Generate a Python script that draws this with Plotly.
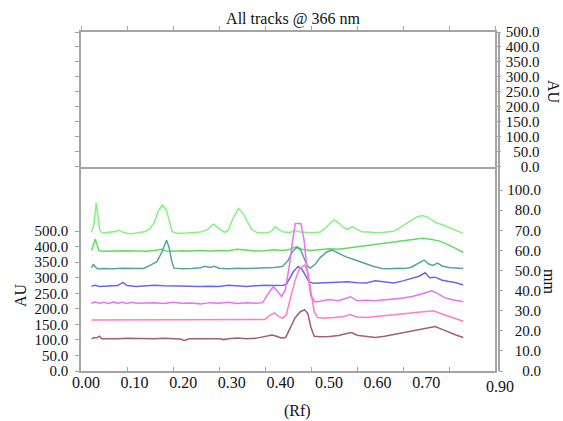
import plotly.graph_objects as go

W, H = 563, 421

# ---------------- data ----------------
rf_t1 = [0.023, 0.028, 0.033, 0.037, 0.041, 0.046, 0.055, 0.065, 0.075, 0.083, 0.090, 0.100, 0.110, 0.120,
         0.130, 0.140, 0.150, 0.160, 0.168, 0.177, 0.185, 0.192, 0.198, 0.205, 0.215, 0.230, 0.245, 0.260,
         0.275, 0.288, 0.300, 0.312, 0.320, 0.330, 0.342, 0.352, 0.362, 0.372, 0.382, 0.395, 0.408, 0.415,
         0.422, 0.430, 0.440, 0.455, 0.465, 0.475, 0.490, 0.505, 0.520, 0.530, 0.540, 0.551, 0.560, 0.570,
         0.580, 0.590, 0.597, 0.610, 0.625, 0.640, 0.655, 0.670, 0.680, 0.690, 0.700, 0.710, 0.720, 0.730,
         0.742, 0.752, 0.762, 0.773, 0.783, 0.793, 0.803, 0.812, 0.822, 0.831]
au_t1 = [446, 470, 542, 500, 452, 444, 445, 447, 449, 453, 447, 443, 442, 444,
         446, 449, 458, 480, 515, 534, 520, 480, 450, 444, 443, 444, 445, 447,
         455, 473, 458, 446, 452, 490, 523, 508, 480, 455, 446, 444, 446, 452,
         464, 455, 447, 446, 452, 448, 446, 445, 447, 458, 474, 486, 476, 462,
         456, 465, 458, 448, 447, 445, 446, 448, 450, 458, 468, 478, 488, 496,
         500, 496, 486, 476, 472, 466, 459, 455, 449, 443]

rf_t2 = [0.023, 0.027, 0.031, 0.035, 0.039, 0.045, 0.060, 0.080, 0.100, 0.120, 0.140, 0.160, 0.175, 0.185,
         0.200, 0.220, 0.240, 0.260, 0.280, 0.300, 0.320, 0.340, 0.360, 0.380, 0.400, 0.420, 0.440, 0.455,
         0.468, 0.480, 0.500, 0.520, 0.540, 0.560, 0.580, 0.600, 0.620, 0.640, 0.660, 0.680, 0.700, 0.720,
         0.742, 0.760, 0.780, 0.800, 0.815, 0.831]
au_t2 = [388, 410, 424, 405, 388, 385, 386, 385, 387, 386, 385, 388, 392, 386,
         385, 387, 386, 388, 386, 388, 387, 392, 388, 386, 387, 390, 388, 392,
         400, 392, 388, 390, 393, 392, 396, 398, 402, 406, 410, 414, 418, 424,
         427, 424, 418, 405, 393, 382]

rf_t3 = [0.023, 0.027, 0.031, 0.036, 0.050, 0.070, 0.090, 0.110, 0.125, 0.136, 0.150, 0.165, 0.175, 0.186,
         0.192, 0.197, 0.202, 0.220, 0.240, 0.260, 0.270, 0.280, 0.290, 0.300, 0.320, 0.340, 0.360, 0.380,
         0.400, 0.420, 0.438, 0.450, 0.460, 0.470, 0.478, 0.486, 0.492, 0.499, 0.510, 0.520, 0.535, 0.546,
         0.560, 0.575, 0.596, 0.615, 0.635, 0.654, 0.670, 0.690, 0.705, 0.718, 0.732, 0.746, 0.755, 0.765,
         0.775, 0.785, 0.800, 0.815, 0.831]
au_t3 = [332, 344, 335, 329, 330, 329, 331, 330, 331, 330, 340, 352, 380, 421,
         395, 355, 331, 329, 330, 332, 337, 333, 337, 331, 329, 331, 330, 331,
         330, 333, 336, 355, 385, 398, 388, 360, 338, 331, 345, 365, 384, 389,
         378, 368, 357, 347, 337, 330, 329, 331, 330, 334, 345, 357, 345, 340,
         347, 338, 333, 331, 330]

rf_t4 = [0.023, 0.030, 0.040, 0.060, 0.080, 0.091, 0.100, 0.120, 0.140, 0.160, 0.180, 0.200, 0.220, 0.240,
         0.260, 0.280, 0.300, 0.320, 0.340, 0.360, 0.380, 0.400, 0.420, 0.440, 0.447, 0.455, 0.462, 0.472,
         0.480, 0.487, 0.495, 0.505, 0.520, 0.540, 0.560, 0.580, 0.600, 0.620, 0.640, 0.660, 0.680, 0.700,
         0.720, 0.735, 0.748, 0.758, 0.770, 0.785, 0.800, 0.815, 0.831]
au_t4 = [273, 276, 272, 273, 275, 285, 275, 272, 273, 276, 274, 273, 272, 273,
         272, 273, 272, 276, 273, 272, 274, 276, 275, 276, 280, 300, 320, 336,
         328, 310, 288, 282, 283, 285, 284, 287, 284, 283, 290, 286, 283, 290,
         300, 305, 316, 300, 302, 292, 288, 284, 277]

rf_t5 = [0.023, 0.030, 0.040, 0.050, 0.060, 0.070, 0.080, 0.090, 0.100, 0.110, 0.120, 0.140, 0.160, 0.180,
         0.200, 0.220, 0.240, 0.260, 0.280, 0.300, 0.320, 0.340, 0.360, 0.380, 0.395, 0.405, 0.418, 0.428,
         0.436, 0.444, 0.452, 0.460, 0.466, 0.478, 0.485, 0.492, 0.500, 0.509, 0.520, 0.540, 0.560, 0.586,
         0.600, 0.620, 0.640, 0.660, 0.680, 0.700, 0.720, 0.740, 0.762, 0.775, 0.790, 0.805, 0.820, 0.831]
au_t5 = [218, 222, 218, 221, 217, 222, 218, 221, 217, 221, 218, 219, 220, 217,
         221, 218, 219, 216, 220, 218, 221, 217, 220, 218, 220, 245, 271, 255,
         239, 260, 330, 420, 475, 475, 420, 320, 240, 222, 225, 230, 226, 239,
         226, 228, 226, 230, 232, 235, 240, 248, 258, 250, 236, 230, 226, 223]

rf_t6 = [0.023, 0.050, 0.100, 0.150, 0.200, 0.250, 0.300, 0.350, 0.390, 0.400, 0.410, 0.420, 0.430, 0.438,
         0.446, 0.455, 0.465, 0.475, 0.486, 0.493, 0.500, 0.507, 0.515, 0.530, 0.550, 0.570, 0.585, 0.600,
         0.620, 0.640, 0.660, 0.680, 0.700, 0.720, 0.740, 0.766, 0.780, 0.795, 0.810, 0.831]
au_t6 = [164, 164, 164, 164, 164, 164, 164, 164, 164, 166, 178, 187, 176, 170,
         180, 230, 290, 330, 341, 320, 250, 190, 172, 170, 172, 175, 182, 174,
         172, 175, 176, 180, 183, 187, 190, 194, 186, 178, 172, 160]

rf_t7 = [0.023, 0.028, 0.033, 0.040, 0.045, 0.060, 0.080, 0.100, 0.120, 0.140, 0.160, 0.180, 0.200, 0.215,
         0.225, 0.235, 0.260, 0.280, 0.300, 0.310, 0.320, 0.340, 0.360, 0.380, 0.400, 0.415, 0.425, 0.435,
         0.445, 0.455, 0.465, 0.476, 0.486, 0.493, 0.500, 0.507, 0.520, 0.540, 0.560, 0.575, 0.588, 0.600,
         0.620, 0.640, 0.660, 0.680, 0.700, 0.720, 0.740, 0.755, 0.770, 0.785, 0.800, 0.815, 0.831]
au_t7 = [103, 108, 106, 112, 104, 105, 104, 105, 104, 105, 104, 105, 104, 103,
         98, 104, 104, 105, 104, 101, 104, 106, 104, 105, 110, 116, 112, 106,
         108, 140, 170, 190, 197, 185, 140, 112, 110, 111, 114, 120, 124, 115,
         112, 108, 112, 118, 124, 130, 134, 138, 143, 134, 124, 116, 108]

tracks = [
    (rf_t1, au_t1, "#84F27E"),
    (rf_t2, au_t2, "#5FDC5F"),
    (rf_t3, au_t3, "#55A59C"),
    (rf_t4, au_t4, "#6868E6"),
    (rf_t5, au_t5, "#E474F0"),
    (rf_t6, au_t6, "#FF7CC8"),
    (rf_t7, au_t7, "#A45E72"),
]

rf_ticks = [0.0, 0.1, 0.2, 0.3, 0.4, 0.5, 0.6, 0.7, 0.8, 0.9]
rf_labels_shown = ["0.00", "0.10", "0.20", "0.30", "0.40", "0.50", "0.60", "0.70"]
au_ticks = [0, 50, 100, 150, 200, 250, 300, 350, 400, 450]
au_labels = ["0.0", "50.0", "100.0", "150.0", "200.0", "250.0", "300.0", "350.0", "400.0", "500.0"]
mm_ticks = [0, 10, 20, 30, 40, 50, 60, 70, 80, 90]
mm_labels = ["0.0", "10.0", "20.0", "30.0", "40.0", "50.0", "60.0", "70.0", "80.0", "100.0"]


def pad_right(labels):
    n = max(len(s) for s in labels)
    return ["\u2007" * (n - len(s)) + s for s in labels]


# ---------------- geometry helpers ----------------
def px(xp):
    return xp / W


def py(yp):
    return 1 - yp / H


X0, X1 = px(81), px(495)
Y_BOT, Y_MID, Y_TOP = py(371), py(169), py(32)

FONT = "Liberation Serif"
LC = "#a4a4a4"

fig = go.Figure()
for rf, au, col in tracks:
    fig.add_trace(go.Scatter(x=rf, y=au, mode="lines", line=dict(color=col, width=1.5),
                             xaxis="x", yaxis="y", showlegend=False, hoverinfo="skip"))

# empty placeholder traces so that every axis/subplot is drawn
for xa, ya in [("x2", "y3"), ("x2", "y4"), ("x", "y2"), ("x3", "y")]:
    fig.add_trace(go.Scatter(x=[None], y=[None], mode="lines", xaxis=xa, yaxis=ya,
                             showlegend=False, hoverinfo="skip"))

xfont = dict(family=FONT, size=16, color="#111")
yfont = dict(family=FONT, size=15, color="#111")
tk = dict(tickcolor=LC, tickwidth=1.2, ticklen=4, showgrid=False, zeroline=False, automargin=False)

fig.update_layout(
    width=W, height=H,
    margin=dict(l=0, r=0, t=0, b=0, autoexpand=False),
    paper_bgcolor="white", plot_bgcolor="rgba(0,0,0,0)",
    showlegend=False,
    title=dict(text="All tracks @ 366 nm", x=px(293), y=py(18), xanchor="center", yanchor="middle",
               xref="paper", yref="paper", font=dict(family=FONT, size=16, color="#111")),
    xaxis=dict(domain=[X0, X1], range=[0, 0.9], anchor="y",
               tickvals=rf_ticks, ticktext=[""] * 9 + ["0.90"], ticklabelshift=5, ticks="inside",
               showline=True, linecolor=LC, linewidth=1.6, mirror=True, tickfont=xfont, **tk),
    xaxis3=dict(domain=[px(86), px(86 + 48.6 * 9)], range=[0, 0.9], anchor="y",
                tickvals=rf_ticks[:8], ticktext=rf_labels_shown, ticks="",
                showline=False, tickfont=xfont, **tk),
    xaxis2=dict(domain=[X0, X1], range=[0, 0.9], anchor="y3", side="top",
                tickvals=rf_ticks, showticklabels=False, ticks="outside",
                showline=True, linecolor=LC, linewidth=1.6, **tk),
    yaxis=dict(domain=[Y_BOT, Y_MID], range=[0, 650], anchor="x", side="left",
               tickvals=au_ticks, ticktext=au_labels, ticks="outside", ticklabelstandoff=4,
               showline=True, linecolor=LC, linewidth=1.6, mirror=True, tickfont=yfont, **tk),
    yaxis2=dict(range=[0, 100.5], overlaying="y", anchor="free", position=px(498.5), side="right",
                tickvals=mm_ticks, ticktext=pad_right(mm_labels), ticks="outside", ticklabelstandoff=1,
                showline=True, linecolor=LC, linewidth=1.6, tickfont=yfont, **tk),
    yaxis3=dict(domain=[Y_MID, Y_TOP], range=[-8, 450], anchor="x2", side="right",
                tickvals=au_ticks, ticktext=pad_right(au_labels), ticks="outside", ticklabelstandoff=2,
                showline=True, linecolor=LC, linewidth=1.6, mirror="ticks", tickfont=yfont, **tk),
    yaxis4=dict(range=[-8, 450], overlaying="y3", anchor="free", position=px(498.5), side="right",
                showticklabels=False, ticks="",
                showline=True, linecolor=LC, linewidth=1.6, showgrid=False, zeroline=False),
)

ann_font = dict(family=FONT, size=16, color="#111")
for txt, ax, ay, ang in [("AU", 20, 295, -90), ("AU", 554, 92, 90), ("mm", 550, 281, 90), ("(Rf)", 297, 411, 0)]:
    fig.add_annotation(text=txt, x=px(ax), y=py(ay), xref="paper", yref="paper", showarrow=False,
                       xanchor="center", yanchor="middle", textangle=ang, font=ann_font)

fig.write_html("out.html", config={"displayModeBar": False},
               post_script="document.body.style.margin='0';document.body.style.overflow='hidden';")
